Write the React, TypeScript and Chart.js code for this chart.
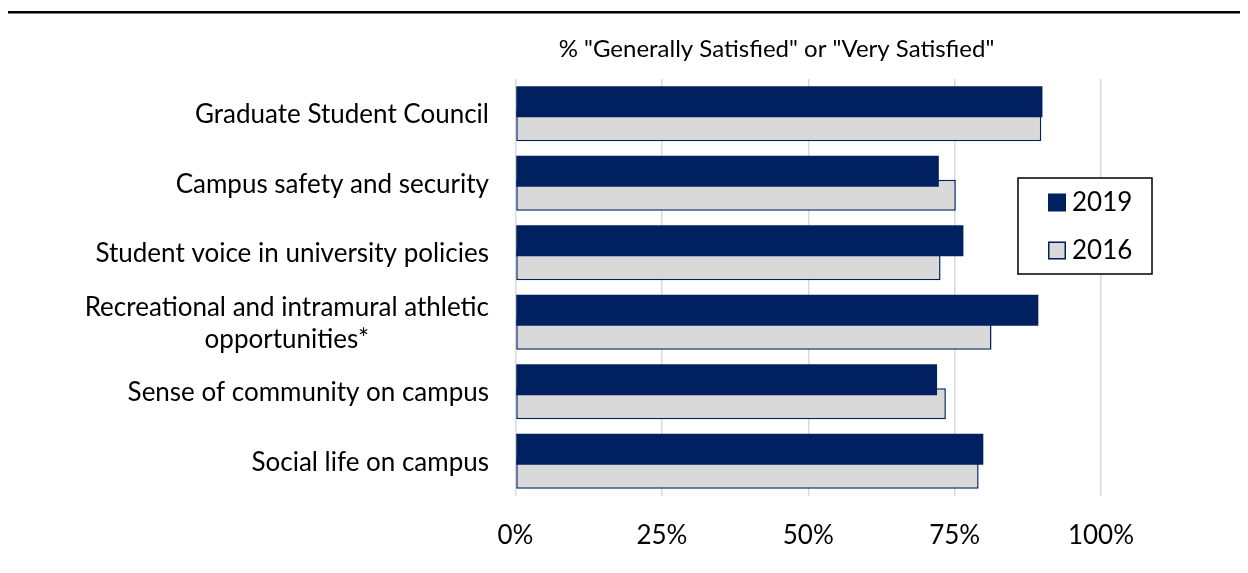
import React, { useEffect, useRef } from "react";
import { Chart, registerables } from "chart.js";

Chart.register(...registerables);

const FONT = "Lato, 'Open Sans', sans-serif";
const FONT_SIZE = 26;
const TITLE_SIZE = 24;

const categories: (string | string[])[] = [
  "Graduate Student Council",
  "Campus safety and security",
  "Student voice in university policies",
  ["Recreational and intramural athletic", "opportunities*"],
  "Sense of community on campus",
  "Social life on campus",
];
const seriesLabels = ["2019", "2016"];
const values2019 = [90.0, 72.3, 76.5, 89.3, 72.0, 79.9];
const values2016 = [89.8, 75.2, 72.6, 81.3, 73.5, 79.1];
const xTickValues = [0, 25, 50, 75, 100];
const axisTitle = '% "Generally Satisfied" or "Very Satisfied"';

const NAVY = "#002060";
const LIGHT = "#D9D9D9";
const GRID = "#D9D9D9";

const decor = {
  id: "decor",
  afterDraw(chart: any) {
    const ctx = chart.ctx as CanvasRenderingContext2D;
    const a = chart.chartArea;
    ctx.save();
    // top rule
    ctx.fillStyle = "#000";
    ctx.fillRect(0, 3, chart.width, 2.5);

    ctx.fillStyle = "#000";
    ctx.textBaseline = "middle";

    // title above plot
    ctx.font = `${TITLE_SIZE}px ${FONT}`;
    ctx.textAlign = "center";
    ctx.fillText(axisTitle, a.left + 261, a.top - 30);

    // category labels
    ctx.font = `${FONT_SIZE}px ${FONT}`;
    const ys = chart.scales.y;
    const lh = 32;
    categories.forEach((lab, i) => {
      const lines = Array.isArray(lab) ? lab : [lab];
      const py = ys.getPixelForValue(i) + 1;
      const widths = lines.map((l) => ctx.measureText(l).width);
      const maxW = Math.max(...widths);
      const right = a.left - 26.5;
      const cx = right - maxW / 2;
      lines.forEach((l, j) => {
        const y = py + (j - (lines.length - 1) / 2) * lh;
        ctx.textAlign = "center";
        ctx.fillText(l, cx, y);
      });
    });

    // legend
    const bx = a.right - 83;
    const by = a.top + 99;
    const bw = 134;
    const bh = 96;
    ctx.fillStyle = "#fff";
    ctx.fillRect(bx, by, bw, bh);
    ctx.strokeStyle = "#000";
    ctx.lineWidth = 1.5;
    ctx.strokeRect(bx, by, bw, bh);
    const rows = [by + 24.5, by + 72.5];
    chart.data.datasets.forEach((ds: any, i: number) => {
      const cy = rows[i];
      ctx.fillStyle = ds.backgroundColor;
      ctx.fillRect(bx + 30, cy - 9, 18, 18);
      if (ds.borderWidth) {
        ctx.strokeStyle = ds.borderColor;
        ctx.lineWidth = 1.5;
        ctx.strokeRect(bx + 30.75, cy - 8.25, 16.5, 16.5);
      }
      ctx.fillStyle = "#000";
      ctx.textAlign = "left";
      ctx.fillText(ds.label, bx + 54, cy);
    });
    ctx.restore();
  },
};

export default function App() {
  const ref = useRef<HTMLCanvasElement | null>(null);
  useEffect(() => {
    if (!ref.current) return;
    const chart = new Chart(ref.current, {
      type: "bar",
      data: {
        labels: categories as any,
        datasets: [
          {
            label: seriesLabels[0],
            data: values2019,
            backgroundColor: NAVY,
            borderWidth: 0,
            categoryPercentage: 0.69,
            barPercentage: 1.29,
          },
          {
            label: seriesLabels[1],
            data: values2016,
            backgroundColor: LIGHT,
            borderColor: NAVY,
            borderWidth: 1.5,
            borderSkipped: false,
            categoryPercentage: 0.69,
            barPercentage: 1.29,
          },
        ],
      },
      options: {
        indexAxis: "y",
        animation: false,
        responsive: false,
        layout: { padding: { top: 71, right: 139, left: 0, bottom: 0 } },
        plugins: {
          legend: { display: false },
          title: { display: false },
          tooltip: { enabled: false },
        },
        scales: {
          x: {
            type: "linear",
            min: 0,
            max: 100,
            afterBuildTicks: (s: any) => {
              s.ticks = xTickValues.map((v) => ({ value: v }));
            },
            afterFit: (s: any) => {
              s.height = 69;
            },
            grid: { color: GRID, lineWidth: 1.5, drawTicks: false },
            border: { display: false },
            ticks: {
              padding: 24,
              color: "#000",
              font: { family: FONT, size: FONT_SIZE },
              callback: (v: any) => `${v}%`,
            },
          },
          y: {
            type: "category",
            afterFit: (s: any) => {
              s.width = 507.5;
            },
            grid: { display: false },
            border: { display: false },
            ticks: { display: false },
          },
        },
      },
      plugins: [decor],
    });
    return () => chart.destroy();
  }, []);
  return (
    <div style={{ width: 1232, height: 557 }}>
      <canvas ref={ref} width={1232} height={557} />
    </div>
  );
}
